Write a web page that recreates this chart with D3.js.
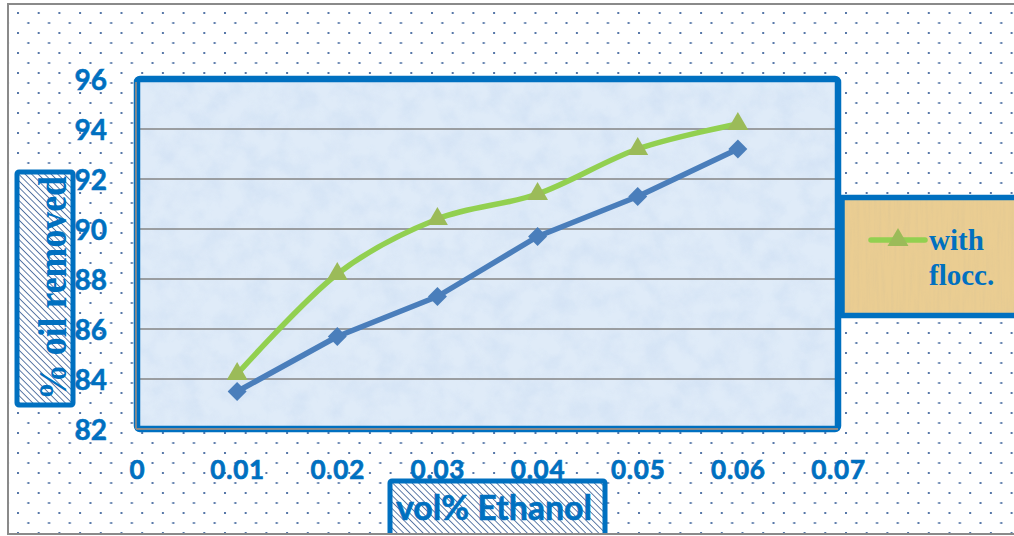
<!DOCTYPE html>
<html>
<head>
<meta charset="utf-8">
<script src="https://cdn.jsdelivr.net/npm/d3@7"></script>
<style>
  html, body { margin: 0; padding: 0; background: #ffffff; }
  svg { display: block; }
</style>
</head>
<body>
<div id="chart"></div>
<script>
// Ethanol dose (vol%) on the x axis
const ethanol = [0.01, 0.02, 0.03, 0.04, 0.05, 0.06];
// % oil removed for each series
const withoutFlocc = [83.5, 85.7, 87.3, 89.7, 91.3, 93.2];
const withFlocc = [84.2, 88.2, 90.4, 91.4, 93.2, 94.2];
const seriesNames = ["without flocc.", "with flocc."];
// axis ticks
const xTicks = [0, 0.01, 0.02, 0.03, 0.04, 0.05, 0.06, 0.07];
const yTicks = [82, 84, 86, 88, 90, 92, 94, 96];
const xTitle = "vol% Ethanol";
const yTitle = "% oil removed";

const W = 1014, H = 536;
const BLUE_TXT = "#0070C0";
const svg = d3.select("#chart").append("svg").attr("width", W).attr("height", H);
const defs = svg.append("defs");

// dotted chart background
const dots = defs.append("pattern").attr("id", "dots")
  .attr("patternUnits", "userSpaceOnUse").attr("x", 17).attr("y", 12)
  .attr("width", 20.7).attr("height", 20);
dots.append("rect").attr("x", 0).attr("y", 0).attr("width", 2).attr("height", 2).attr("fill", "#5677a8");
dots.append("rect").attr("x", 10.35).attr("y", 10).attr("width", 2).attr("height", 2).attr("fill", "#5677a8");

// diagonal hatch for the axis title boxes
const hatch = defs.append("pattern").attr("id", "hatch")
  .attr("patternUnits", "userSpaceOnUse").attr("width", 4.6).attr("height", 4.6)
  .attr("patternTransform", "rotate(-45)");
hatch.append("rect").attr("width", 4.6).attr("height", 4.6).attr("fill", "#ffffff");
hatch.append("line").attr("x1", 0).attr("y1", 0).attr("x2", 0).attr("y2", 4.6)
  .attr("stroke", "#4f6f9f").attr("stroke-width", 1.8);

// frosted texture for the plot area
const frost = defs.append("filter").attr("id", "frost")
  .attr("x", 0).attr("y", 0).attr("width", "100%").attr("height", "100%");
frost.append("feTurbulence").attr("type", "fractalNoise").attr("baseFrequency", 0.045)
  .attr("numOctaves", 4).attr("seed", 7).attr("result", "n");
frost.append("feColorMatrix").attr("in", "n").attr("type", "matrix")
  .attr("values", "0 0 0 0 0.62  0 0 0 0 0.74  0 0 0 0 0.90  1.5 0 0 0 -0.55");

// papyrus texture for the legend
const papyrus = defs.append("filter").attr("id", "papyrus")
  .attr("x", 0).attr("y", 0).attr("width", "100%").attr("height", "100%");
papyrus.append("feTurbulence").attr("type", "fractalNoise").attr("baseFrequency", "0.35 0.02")
  .attr("numOctaves", 3).attr("seed", 2).attr("result", "n");
papyrus.append("feColorMatrix").attr("in", "n").attr("type", "matrix")
  .attr("values", "0 0 0 0 0.70  0 0 0 0 0.55  0 0 0 0 0.30  1.3 0 0 0 -0.5");

// outer chart area
svg.append("rect").attr("x", 8).attr("y", 4).attr("width", 1020).attr("height", 530)
  .attr("fill", "url(#dots)").attr("stroke", "#8a8a8a").attr("stroke-width", 2);

// scales
const x = d3.scaleLinear().domain([0, 0.07]).range([137, 838]);
const y = d3.scaleLinear().domain([82, 96]).range([429, 79]);
const [x0, x1] = x.range();
const [y0, y1] = y.range();

// plot area
svg.append("rect").attr("x", x0).attr("y", y1).attr("width", x1 - x0).attr("height", y0 - y1)
  .attr("fill", "#dfebf8");
svg.append("rect").attr("x", x0).attr("y", y1).attr("width", x1 - x0).attr("height", y0 - y1)
  .attr("filter", "url(#frost)").attr("opacity", 0.85);

// horizontal gridlines
svg.append("g").selectAll("line").data(yTicks.filter(t => t > 82 && t < 96)).join("line")
  .attr("x1", x0).attr("x2", x1).attr("y1", d => y(d)).attr("y2", d => y(d))
  .attr("stroke", "#858585").attr("stroke-width", 1.6);

// plot area frame
svg.append("rect").attr("x", x0).attr("y", y1).attr("width", x1 - x0).attr("height", y0 - y1)
  .attr("rx", 3).attr("fill", "none").attr("stroke", "#0070C0").attr("stroke-width", 6.5);
// axis lines
svg.append("line").attr("x1", x0 - 1).attr("x2", x0 - 1).attr("y1", y1 + 3).attr("y2", y0)
  .attr("stroke", "#8a8a8a").attr("stroke-width", 1.8);
svg.append("line").attr("x1", x0 - 1).attr("x2", x1).attr("y1", y0).attr("y2", y0)
  .attr("stroke", "#8a8a8a").attr("stroke-width", 1.8);

// tick labels (axis domain and tick marks hidden)
const yAxis = svg.append("g").attr("transform", "translate(107,0)")
  .call(d3.axisLeft(y).tickValues(yTicks).tickSize(0).tickPadding(0).tickFormat(d3.format("d")));
yAxis.select(".domain").remove();
yAxis.selectAll("text").attr("font-family", "Lato, 'Open Sans', sans-serif").attr("font-weight", 700)
  .attr("font-size", 28).attr("fill", BLUE_TXT).attr("stroke", BLUE_TXT).attr("stroke-width", 0.5)
  .attr("dy", "0.36em");

const xAxis = svg.append("g").attr("transform", "translate(0,470)")
  .call(d3.axisBottom(x).tickValues(xTicks).tickSize(0).tickPadding(0)
    .tickFormat(d => d === 0 ? "0" : d3.format(".2f")(d)));
xAxis.select(".domain").remove();
xAxis.selectAll("text").attr("font-family", "Lato, 'Open Sans', sans-serif").attr("font-weight", 700)
  .attr("font-size", 26).attr("letter-spacing", 0.8).attr("fill", BLUE_TXT)
  .attr("stroke", BLUE_TXT).attr("stroke-width", 0.7).attr("dy", "0.36em");

// series
const ptsA = ethanol.map((e, i) => [e, withoutFlocc[i]]);
const ptsB = ethanol.map((e, i) => [e, withFlocc[i]]);
const lineLin = d3.line().x(d => x(d[0])).y(d => y(d[1]));
const lineSmooth = d3.line().x(d => x(d[0])).y(d => y(d[1])).curve(d3.curveCardinal.tension(0));

svg.append("path").attr("d", lineLin(ptsA)).attr("fill", "none")
  .attr("stroke", "#4a7ebb").attr("stroke-width", 5.5).attr("stroke-linejoin", "round");
svg.append("path").attr("d", lineSmooth(ptsB)).attr("fill", "none")
  .attr("stroke", "#92d050").attr("stroke-width", 5.5).attr("stroke-linejoin", "round");

const diamond = d3.symbol().type(d3.symbolSquare).size(180);
svg.append("g").selectAll("path").data(ptsA).join("path")
  .attr("d", diamond)
  .attr("transform", d => `translate(${x(d[0])},${y(d[1])}) rotate(45)`)
  .attr("fill", "#4a7ebb");

const tri = d3.symbol().type(d3.symbolTriangle).size(190);
svg.append("g").selectAll("path").data(ptsB).join("path")
  .attr("d", tri)
  .attr("transform", d => `translate(${x(d[0])},${y(d[1])})`)
  .attr("fill", "#9bbb59");

// legend
const lg = svg.append("g");
lg.append("rect").attr("x", 842).attr("y", 197.5).attr("width", 200).attr("height", 118)
  .attr("fill", "#eacd92");
lg.append("rect").attr("x", 842).attr("y", 197.5).attr("width", 200).attr("height", 118)
  .attr("filter", "url(#papyrus)").attr("opacity", 0.55);
lg.append("rect").attr("x", 842).attr("y", 197.5).attr("width", 200).attr("height", 118)
  .attr("fill", "none").attr("stroke", "#0070C0").attr("stroke-width", 5.5);
lg.append("line").attr("x1", 871).attr("x2", 925).attr("y1", 240).attr("y2", 240)
  .attr("stroke", "#92d050").attr("stroke-width", 5.5).attr("stroke-linecap", "round");
lg.append("path").attr("d", tri).attr("transform", "translate(898,240)").attr("fill", "#9bbb59");
const words = seriesNames[1].split(" ");
lg.selectAll("text").data(words).join("text")
  .attr("x", 929).attr("y", (d, i) => 250 + i * 35)
  .attr("font-family", "'Liberation Serif', 'Times New Roman', serif").attr("font-weight", 700)
  .attr("font-size", 29).attr("fill", BLUE_TXT).text(d => d);

// y axis title
svg.append("rect").attr("x", 17).attr("y", 172).attr("width", 56).attr("height", 233)
  .attr("fill", "url(#hatch)").attr("stroke", "#0070C0").attr("stroke-width", 5).attr("rx", 2);
svg.append("text").attr("transform", "translate(66,288) rotate(-90)")
  .attr("text-anchor", "middle")
  .attr("font-family", "'Liberation Serif', 'Times New Roman', serif").attr("font-weight", 700)
  .attr("font-size", 39).attr("textLength", 224).attr("lengthAdjust", "spacingAndGlyphs")
  .attr("fill", BLUE_TXT).text(yTitle);

// x axis title
svg.append("rect").attr("x", 390).attr("y", 481).attr("width", 215).attr("height", 60)
  .attr("fill", "url(#hatch)").attr("stroke", "#0070C0").attr("stroke-width", 5).attr("rx", 2);
svg.append("text").attr("x", 494).attr("y", 520).attr("text-anchor", "middle")
  .attr("font-family", "Lato, 'Open Sans', sans-serif").attr("font-weight", 700)
  .attr("font-size", 34).attr("textLength", 196).attr("lengthAdjust", "spacingAndGlyphs")
  .attr("fill", BLUE_TXT).attr("stroke", BLUE_TXT).attr("stroke-width", 0.6).text(xTitle);
// bottom border redrawn over the title box
svg.append("line").attr("x1", 8).attr("x2", W).attr("y1", 534).attr("y2", 534)
  .attr("stroke", "#8a8a8a").attr("stroke-width", 2);
svg.append("rect").attr("x", 0).attr("y", 535).attr("width", W).attr("height", 2).attr("fill", "#fff");
</script>
</body>
</html>
